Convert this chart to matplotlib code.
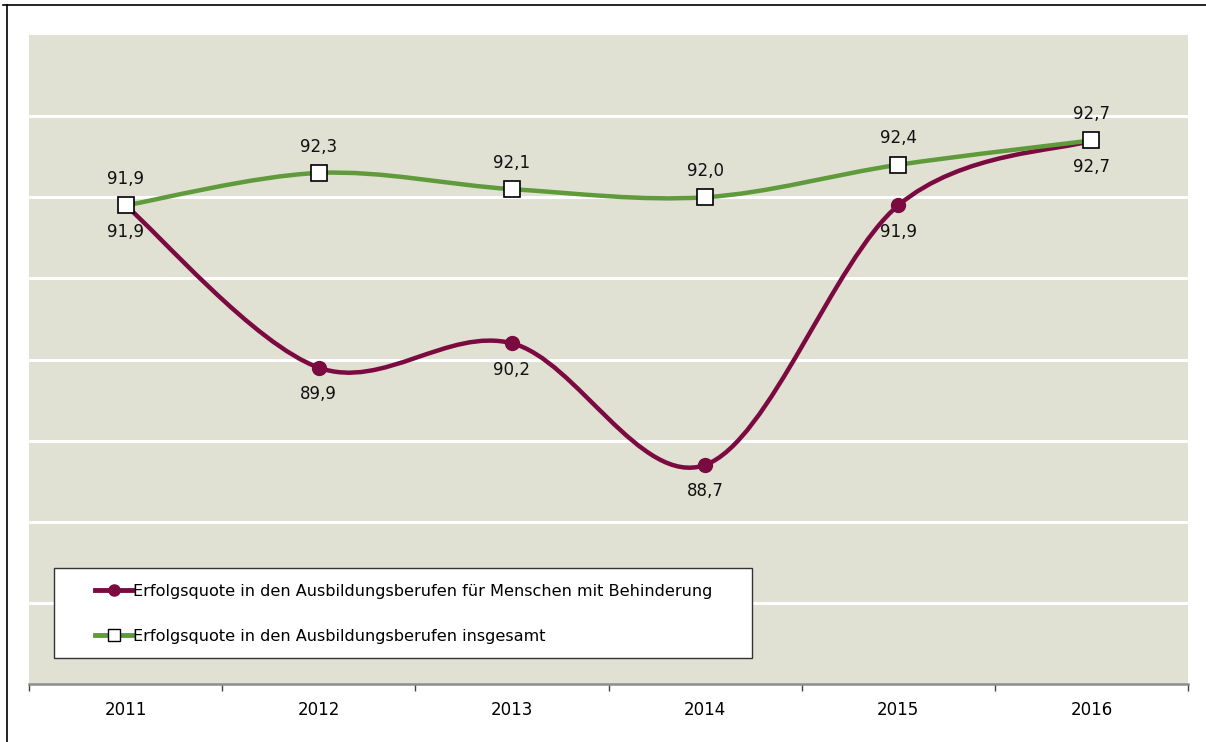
import numpy as np
import matplotlib
matplotlib.use("Agg")
from matplotlib import pyplot as plt
from matplotlib.path import Path
from matplotlib.patches import PathPatch, Rectangle
from matplotlib.lines import Line2D

# data
years = ["2011", "2012", "2013", "2014", "2015", "2016"]
behinderung = [91.9, 89.9, 90.2, 88.7, 91.9, 92.7]
insgesamt = [91.9, 92.3, 92.1, 92.0, 92.4, 92.7]
label_behinderung = "Erfolgsquote in den Ausbildungsberufen für Menschen mit Behinderung"
label_insgesamt = "Erfolgsquote in den Ausbildungsberufen insgesamt"

purple = "#7A0A40"
green = "#5F9A3B"
bg = "#E0E0D3"
W, H = 1206, 742


def smooth_path(xs, ys):
    # Excel-style smoothed line: cubic bezier segments through the points
    pts = np.column_stack([xs, ys]).astype(float)
    n = len(pts)
    verts = [pts[0]]
    codes = [Path.MOVETO]
    for i in range(n - 1):
        p0 = pts[i - 1] if i > 0 else pts[i]
        p1 = pts[i]
        p2 = pts[i + 1]
        p3 = pts[i + 2] if i + 2 < n else pts[i + 1]
        c1 = p1 + (p2 - p0) / 6.0
        c2 = p2 - (p3 - p1) / 6.0
        verts += [c1, c2, p2]
        codes += [Path.CURVE4] * 3
    return Path(verts, codes)


fig = plt.figure(figsize=(W / 100, H / 100), dpi=100)
ax = fig.add_axes([29 / W, 58 / H, 1159 / W, 649 / H])
ax.set_facecolor(bg)

x = np.arange(len(years))
ax.set_xlim(-0.5, len(years) - 0.5)
ax.set_ylim(86, 94)

# grid
ax.set_yticks(np.arange(87, 94, 1))
ax.yaxis.grid(True, color="white", lw=2.2)
ax.tick_params(axis="y", length=0, labelleft=False)
ax.set_axisbelow(True)

for s in ["top", "right", "left"]:
    ax.spines[s].set_visible(False)
ax.spines["bottom"].set_color("#8C8C8C")
ax.spines["bottom"].set_linewidth(1.8)

ax.set_xticks(np.arange(-0.5, len(years), 1), minor=False)
ax.set_xticklabels([])
ax.set_xticks(x, minor=True)
ax.set_xticklabels(years, minor=True, fontsize=12)
ax.tick_params(axis="x", which="major", length=5, color="#444444", width=1)
ax.tick_params(axis="x", which="minor", length=0, pad=12)

# lines
ax.add_patch(PathPatch(smooth_path(x, behinderung), fill=False, edgecolor=purple, lw=3.2, zorder=3))
ax.add_patch(PathPatch(smooth_path(x, insgesamt), fill=False, edgecolor=green, lw=3.2, zorder=4))
ax.plot(x, behinderung, ls="none", marker="o", ms=10, color=purple, zorder=5)
ax.plot(x, insgesamt, ls="none", marker="s", ms=11, mfc="white", mec="black", mew=1.2, zorder=6)

# data labels
for xi, v in zip(x, insgesamt):
    ax.annotate(f"{v:.1f}".replace(".", ","), (xi, v), xytext=(0, 19), textcoords="offset points",
                ha="center", va="center", fontsize=12, color="#111111")
for xi, v in zip(x, behinderung):
    ax.annotate(f"{v:.1f}".replace(".", ","), (xi, v), xytext=(0, -19), textcoords="offset points",
                ha="center", va="center", fontsize=12, color="#111111")

# legend: white box plus frameless legend
box = Rectangle((54 / W, 1 - 658 / H), (752 - 54) / W, 90 / H, transform=fig.transFigure,
                facecolor="white", edgecolor="#333333", lw=1.0, zorder=7)
ax.add_artist(box)
box.set_clip_on(False)

handles = [
    Line2D([], [], color=purple, lw=3.5, marker="o", ms=8),
    Line2D([], [], color=green, lw=3.5, marker="s", ms=9, mfc="white", mec="black", mew=1),
]
leg = ax.legend(handles, [label_behinderung, label_insgesamt], loc="center left",
                bbox_to_anchor=(95 / W, 1 - 614 / H), bbox_transform=fig.transFigure,
                fontsize=11.6, frameon=False, borderpad=0, borderaxespad=0,
                handlelength=2.3, handletextpad=0.05, labelspacing=1.85)
leg.set_zorder(8)

# outer chart border (clipped at the edges)
fig.add_artist(Line2D([3 / W, 1], [1 - 5 / H, 1 - 5 / H], color="black", lw=1.2))
fig.add_artist(Line2D([7 / W, 7 / W], [0, 1 - 5 / H], color="black", lw=1.2))

fig.savefig("out.png", dpi=100)
